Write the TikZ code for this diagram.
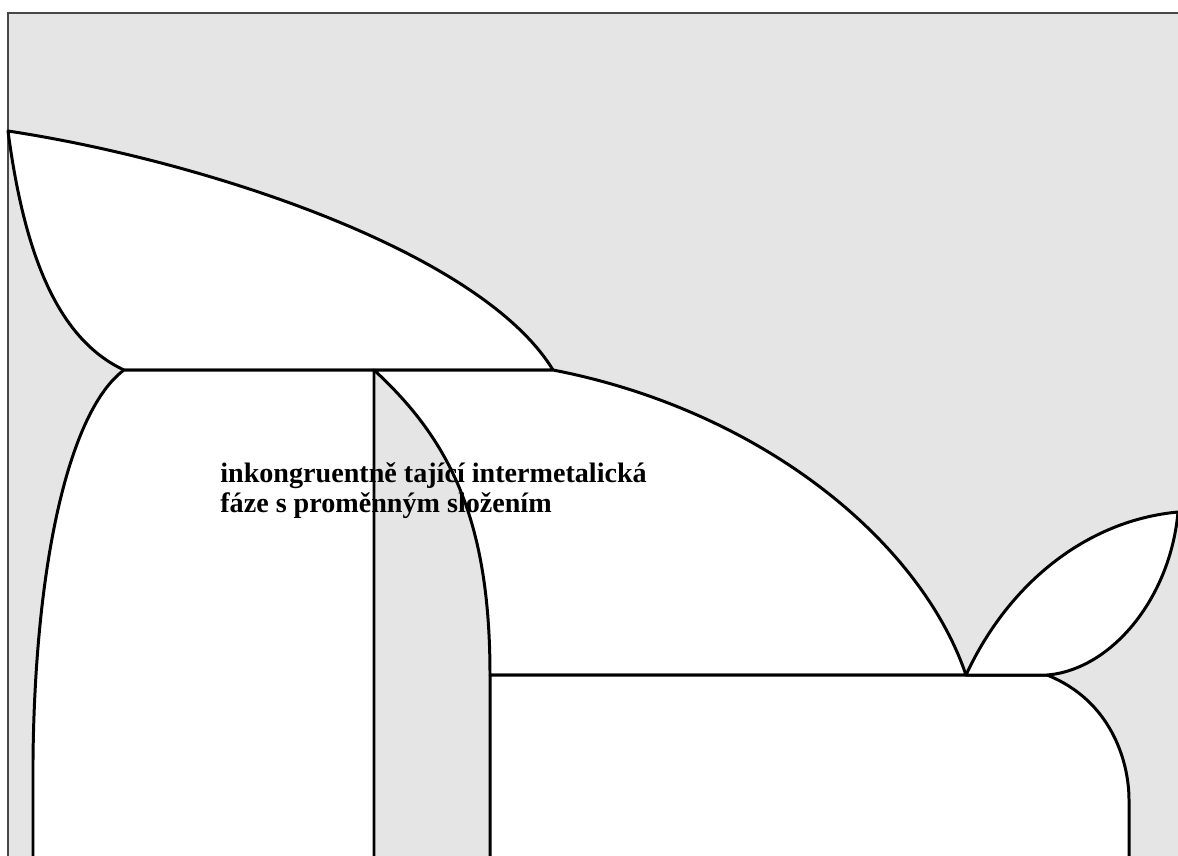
\documentclass[tikz,border=0pt]{standalone}
\usepackage{fontspec}
\setmainfont{Liberation Serif}

\begin{document}
\begin{tikzpicture}[
  x=0.2mm,y=-0.2mm,
  frame/.style={draw=black!72,line width=.8pt,fill=fieldgray},
  phase/.style={fill=white,draw=black,line width=1.7pt,line join=round},
  label/.style={font=\bfseries\fontsize{16}{17}\selectfont,text=black,
    align=left,inner sep=0pt,anchor=north west}
]

\definecolor{fieldgray}{RGB}{229,229,229}

\useasboundingbox (0,0) rectangle (1178,855);
\clip (0,0) rectangle (1178,855);

\fill[white] (0,0) rectangle (1178,855);
\draw[frame] (8,13) rectangle (1200,880);

% key points of the diagram
\coordinate (meltA) at (8,131);
\coordinate (eutL)  at (124,370);
\coordinate (peri)  at (553,370);
\coordinate (cong)  at (374,370);
\coordinate (solM)  at (490,675);
\coordinate (eutR)  at (966,675);
\coordinate (solR)  at (1047,675);
\coordinate (meltB) at (1178,512);

% upper two-phase lens
\path[phase] (meltA) .. controls (200,160) and (480,250) .. (peri)
  -- (eutL) .. controls (60,340) and (25,260) .. (meltA) -- cycle;

% left solid solution
\path[phase] (eutL) .. controls (70,410) and (35,560) .. (33,760)
  -- (33,880) -- (374,880) -- (cong) -- cycle;

% liquid + intermetallic phase
\path[phase] (cong) -- (peri) .. controls (760,410) and (920,540) .. (eutR)
  -- (solM) .. controls (490,520) and (450,440) .. (cong) -- cycle;

% two solid phases below the eutectic line
\path[phase] (solM) -- (solR) .. controls (1110,700) and (1129,760) .. (1129,800)
  -- (1129,880) -- (490,880) -- cycle;

% right lens
\path[phase] (eutR) .. controls (1010,580) and (1090,520) .. (meltB)
  .. controls (1170,600) and (1110,670) .. (solR) -- cycle;

\node[label] (phasenote) at (220,462)
  {inkongruentně tající intermetalická\\
   fáze s proměnným složením};

\end{tikzpicture}
\end{document}
